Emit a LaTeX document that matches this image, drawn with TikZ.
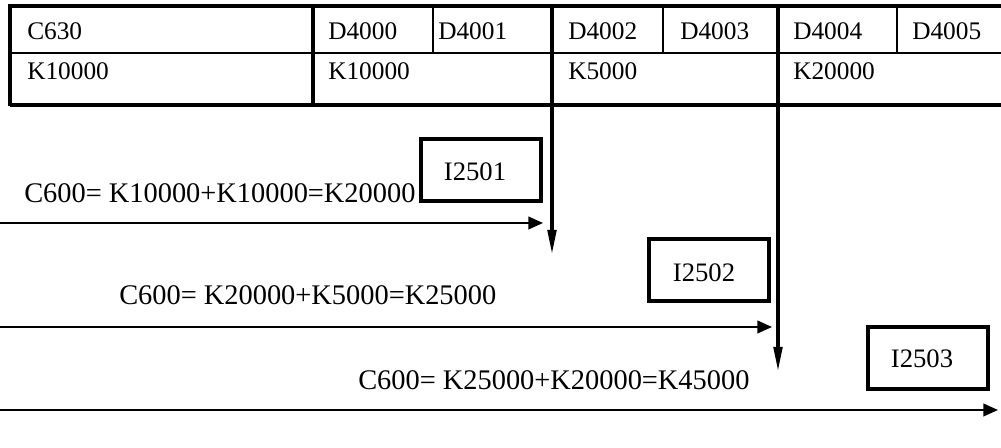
\documentclass[tikz,border=0pt]{standalone}
\usepackage{fontspec}
\setmainfont{Liberation Serif}
\usetikzlibrary{arrows.meta}
\begin{document}
\begin{tikzpicture}[x=0.75pt,y=-0.75pt,
  thickline/.style={line width=3pt},
  thinline/.style={line width=0.9pt},
  cell/.style={anchor=base west,inner sep=0pt,font=\fontsize{19}{19}\selectfont},
  formula/.style={anchor=base west,inner sep=0pt,font=\fontsize{21.3}{22}\selectfont},
  ibox/.style={draw,line width=2.4pt,minimum width=120*0.75pt,minimum height=62*0.75pt,inner sep=0pt},
  ilabel/.style={inner sep=0pt,font=\fontsize{20}{20}\selectfont},
  harrow/.style={line width=1.5pt,-{Triangle[length=11pt,width=9.5pt]}},
  varrow/.style={line width=2.3pt,-{Triangle[length=18pt,width=6.5pt]}}]
\useasboundingbox (0,0) rectangle (1001,448);
% table
\draw[thickline] (10,6) -- (1001,6);
\draw[thickline] (10,105) -- (1001,105);
\draw[thinline] (10,53) -- (1001,53);
\draw[thickline] (10,4.5) -- (10,106.5);
\foreach \x in {313,552,778} \draw[thickline] (\x,6) -- (\x,105);
\foreach \x in {433,663,897} \draw[thinline] (\x,6) -- (\x,53);
\node[cell] (c630) at (27,40) {C630};
\node[cell] (d4000) at (328,40) {D4000};
\node[cell] (d4001) at (438,40) {D4001};
\node[cell] (d4002) at (568,40) {D4002};
\node[cell] (d4003) at (680,40) {D4003};
\node[cell] (d4004) at (793,40) {D4004};
\node[cell] (d4005) at (912,40) {D4005};
\node[cell] (k1) at (27,80) {K10000};
\node[cell] (k2) at (328,80) {K10000};
\node[cell] (k3) at (568,80) {K5000};
\node[cell] (k4) at (793,80) {K20000};
% coordinates
\coordinate (v1s) at (552,105);
\coordinate (v1e) at (552,254);
\coordinate (v2s) at (778,105);
\coordinate (v2e) at (778,371);
\coordinate (h1s) at (0,223);
\coordinate (h1e) at (543,223);
\coordinate (h2s) at (0,327);
\coordinate (h2e) at (772,327);
\coordinate (h3s) at (0,410);
\coordinate (h3e) at (998,410);
% boxes
\node[ibox] (b1) at (481,170) {};
\node[ilabel] (l1) at (475,172) {I2501};
\node[ibox] (b2) at (709,270) {};
\node[ilabel] (l2) at (704,273) {I2502};
\node[ibox] (b3) at (928,358) {};
\node[ilabel] (l3) at (922,359) {I2503};
% formulas
\node[formula] (f1) at (24,203) {C600= K10000+K10000=K20000};
\node[formula] (f2) at (119,305) {C600= K20000+K5000=K25000};
\node[formula] (f3) at (358,390) {C600= K25000+K20000=K45000};
% arrows
\draw[varrow] (v1s) -- (v1e);
\draw[varrow] (v2s) -- (v2e);
\draw[harrow] (h1s) -- (h1e);
\draw[harrow] (h2s) -- (h2e);
\draw[harrow] (h3s) -- (h3e);
\end{tikzpicture}
\end{document}
